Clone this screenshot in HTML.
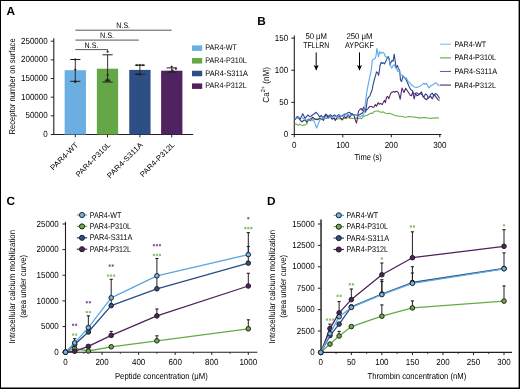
<!DOCTYPE html>
<html><head><meta charset="utf-8"><style>
html,body{margin:0;padding:0;background:#fff;}
svg{display:block;font-family:"Liberation Sans", sans-serif;will-change:transform;text-rendering:geometricPrecision;}
</style></head><body>
<svg width="520" height="389" viewBox="0 0 520 389">
<path d="M0,0H520V389H0Z M1,1V387.6H518.6V1Z" fill="#000" fill-rule="evenodd"/>
<text x="6.40" y="15.30" font-size="11.8" fill="#000" font-weight="bold" >A</text>
<line x1="53.80" y1="38.30" x2="53.80" y2="135.00" stroke="#231f20" stroke-width="1.1"/>
<line x1="53.30" y1="134.50" x2="193.20" y2="134.50" stroke="#231f20" stroke-width="1.1"/>
<line x1="50.80" y1="134.50" x2="53.80" y2="134.50" stroke="#231f20" stroke-width="1"/>
<text x="47.70" y="137.10" font-size="8.8" text-anchor="end" textLength="4.45" lengthAdjust="spacingAndGlyphs" >0</text>
<line x1="50.80" y1="115.84" x2="53.80" y2="115.84" stroke="#231f20" stroke-width="1"/>
<text x="47.70" y="118.44" font-size="8.8" text-anchor="end" textLength="22.25" lengthAdjust="spacingAndGlyphs" >50000</text>
<line x1="50.80" y1="97.18" x2="53.80" y2="97.18" stroke="#231f20" stroke-width="1"/>
<text x="47.70" y="99.78" font-size="8.8" text-anchor="end" textLength="26.70" lengthAdjust="spacingAndGlyphs" >100000</text>
<line x1="50.80" y1="78.52" x2="53.80" y2="78.52" stroke="#231f20" stroke-width="1"/>
<text x="47.70" y="81.12" font-size="8.8" text-anchor="end" textLength="26.70" lengthAdjust="spacingAndGlyphs" >150000</text>
<line x1="50.80" y1="59.86" x2="53.80" y2="59.86" stroke="#231f20" stroke-width="1"/>
<text x="47.70" y="62.46" font-size="8.8" text-anchor="end" textLength="26.70" lengthAdjust="spacingAndGlyphs" >200000</text>
<line x1="50.80" y1="41.20" x2="53.80" y2="41.20" stroke="#231f20" stroke-width="1"/>
<text x="47.70" y="43.80" font-size="8.8" text-anchor="end" textLength="26.70" lengthAdjust="spacingAndGlyphs" >250000</text>
<rect x="64.65" y="70.20" width="21.30" height="64.30" fill="#6aaee2"/>
<line x1="75.30" y1="134.50" x2="75.30" y2="137.30" stroke="#231f20" stroke-width="1.0"/>
<rect x="96.85" y="68.70" width="21.30" height="65.80" fill="#65a746"/>
<line x1="107.50" y1="134.50" x2="107.50" y2="137.30" stroke="#231f20" stroke-width="1.0"/>
<rect x="129.25" y="69.90" width="21.30" height="64.60" fill="#2d4f85"/>
<line x1="139.90" y1="134.50" x2="139.90" y2="137.30" stroke="#231f20" stroke-width="1.0"/>
<rect x="161.10" y="70.70" width="21.30" height="63.80" fill="#4f2360"/>
<line x1="171.75" y1="134.50" x2="171.75" y2="137.30" stroke="#231f20" stroke-width="1.0"/>
<line x1="75.30" y1="59.50" x2="75.30" y2="81.30" stroke="#231f20" stroke-width="0.9"/>
<line x1="70.20" y1="59.50" x2="80.40" y2="59.50" stroke="#231f20" stroke-width="1.0"/>
<line x1="70.20" y1="81.30" x2="80.40" y2="81.30" stroke="#231f20" stroke-width="1.0"/>
<circle cx="75.30" cy="59.50" r="0.9" fill="#231f20" stroke="#231f20" stroke-width="0.3"/>
<circle cx="75.30" cy="69.60" r="0.9" fill="#231f20" stroke="#231f20" stroke-width="0.3"/>
<circle cx="75.30" cy="81.30" r="0.9" fill="#231f20" stroke="#231f20" stroke-width="0.3"/>
<circle cx="75.30" cy="82.00" r="0.9" fill="#231f20" stroke="#231f20" stroke-width="0.3"/>
<line x1="107.60" y1="54.80" x2="107.60" y2="82.00" stroke="#231f20" stroke-width="0.9"/>
<line x1="102.50" y1="54.80" x2="112.70" y2="54.80" stroke="#231f20" stroke-width="1.0"/>
<line x1="102.50" y1="82.00" x2="112.70" y2="82.00" stroke="#231f20" stroke-width="1.0"/>
<circle cx="107.60" cy="51.70" r="0.9" fill="#231f20" stroke="#231f20" stroke-width="0.3"/>
<circle cx="107.60" cy="75.00" r="0.9" fill="#231f20" stroke="#231f20" stroke-width="0.3"/>
<circle cx="107.60" cy="79.10" r="0.9" fill="#231f20" stroke="#231f20" stroke-width="0.3"/>
<circle cx="106.10" cy="80.50" r="0.9" fill="#231f20" stroke="#231f20" stroke-width="0.3"/>
<circle cx="109.10" cy="80.50" r="0.9" fill="#231f20" stroke="#231f20" stroke-width="0.3"/>
<line x1="139.90" y1="65.20" x2="139.90" y2="74.20" stroke="#231f20" stroke-width="0.9"/>
<line x1="134.80" y1="65.20" x2="145.00" y2="65.20" stroke="#231f20" stroke-width="1.0"/>
<line x1="134.80" y1="74.20" x2="145.00" y2="74.20" stroke="#231f20" stroke-width="1.0"/>
<circle cx="139.90" cy="65.00" r="0.9" fill="#231f20" stroke="#231f20" stroke-width="0.3"/>
<circle cx="136.90" cy="65.20" r="0.9" fill="#231f20" stroke="#231f20" stroke-width="0.3"/>
<circle cx="142.90" cy="65.20" r="0.9" fill="#231f20" stroke="#231f20" stroke-width="0.3"/>
<circle cx="139.90" cy="74.50" r="0.9" fill="#231f20" stroke="#231f20" stroke-width="0.3"/>
<circle cx="137.40" cy="74.20" r="0.9" fill="#231f20" stroke="#231f20" stroke-width="0.3"/>
<line x1="171.70" y1="67.90" x2="171.70" y2="72.20" stroke="#231f20" stroke-width="0.9"/>
<line x1="166.60" y1="67.90" x2="176.80" y2="67.90" stroke="#231f20" stroke-width="1.0"/>
<line x1="166.60" y1="72.20" x2="176.80" y2="72.20" stroke="#231f20" stroke-width="1.0"/>
<circle cx="171.70" cy="66.70" r="0.9" fill="#231f20" stroke="#231f20" stroke-width="0.3"/>
<circle cx="175.90" cy="68.70" r="0.9" fill="#231f20" stroke="#231f20" stroke-width="0.3"/>
<circle cx="169.70" cy="71.80" r="0.9" fill="#231f20" stroke="#231f20" stroke-width="0.3"/>
<circle cx="172.70" cy="70.50" r="0.9" fill="#231f20" stroke="#231f20" stroke-width="0.3"/>
<line x1="75.40" y1="49.60" x2="107.60" y2="49.60" stroke="#444" stroke-width="0.9"/>
<line x1="107.60" y1="49.20" x2="107.60" y2="51.50" stroke="#444" stroke-width="0.8"/>
<line x1="75.40" y1="40.10" x2="138.80" y2="40.10" stroke="#444" stroke-width="0.9"/>
<line x1="75.40" y1="30.20" x2="171.60" y2="30.20" stroke="#444" stroke-width="0.9"/>
<text x="84.60" y="47.60" font-size="8.0" textLength="13.80" lengthAdjust="spacingAndGlyphs" >N.S.</text>
<text x="99.90" y="37.90" font-size="8.0" textLength="14.20" lengthAdjust="spacingAndGlyphs" >N.S.</text>
<text x="116.30" y="27.80" font-size="8.0" textLength="13.80" lengthAdjust="spacingAndGlyphs" >N.S.</text>
<text x="78.70" y="145.40" font-size="7.6" text-anchor="end" textLength="36.00" lengthAdjust="spacingAndGlyphs" transform="rotate(-45 78.70 145.40)" >PAR4-WT</text>
<text x="110.90" y="145.40" font-size="7.6" text-anchor="end" textLength="45.50" lengthAdjust="spacingAndGlyphs" transform="rotate(-45 110.90 145.40)" >PAR4-P310L</text>
<text x="143.30" y="145.40" font-size="7.6" text-anchor="end" textLength="47.00" lengthAdjust="spacingAndGlyphs" transform="rotate(-45 143.30 145.40)" >PAR4-S311A</text>
<text x="175.15" y="145.40" font-size="7.6" text-anchor="end" textLength="45.50" lengthAdjust="spacingAndGlyphs" transform="rotate(-45 175.15 145.40)" >PAR4-P312L</text>
<text x="14.90" y="86.40" font-size="8.6" text-anchor="middle" textLength="96.00" lengthAdjust="spacingAndGlyphs" transform="rotate(-90 14.90 86.40)" >Receptor number on surface</text>
<rect x="192.00" y="45.40" width="10.20" height="5.50" fill="#6aaee2"/>
<text x="205.30" y="50.30" font-size="8.0" textLength="31.60" lengthAdjust="spacingAndGlyphs" >PAR4-WT</text>
<rect x="192.00" y="58.07" width="10.20" height="5.50" fill="#65a746"/>
<text x="205.30" y="62.97" font-size="8.0" textLength="41.40" lengthAdjust="spacingAndGlyphs" >PAR4-P310L</text>
<rect x="192.00" y="70.74" width="10.20" height="5.50" fill="#2d4f85"/>
<text x="205.30" y="75.64" font-size="8.0" textLength="42.60" lengthAdjust="spacingAndGlyphs" >PAR4-S311A</text>
<rect x="192.00" y="83.41" width="10.20" height="5.50" fill="#4f2360"/>
<text x="205.30" y="88.31" font-size="8.0" textLength="41.40" lengthAdjust="spacingAndGlyphs" >PAR4-P312L</text>
<text x="257.30" y="24.90" font-size="11.8" fill="#000" font-weight="bold" >B</text>
<line x1="294.30" y1="35.60" x2="294.30" y2="135.00" stroke="#231f20" stroke-width="1.1"/>
<line x1="293.80" y1="134.50" x2="441.40" y2="134.50" stroke="#231f20" stroke-width="1.1"/>
<line x1="291.30" y1="134.50" x2="294.30" y2="134.50" stroke="#231f20" stroke-width="1"/>
<text x="288.20" y="137.10" font-size="8.8" text-anchor="end" textLength="4.45" lengthAdjust="spacingAndGlyphs" >0</text>
<line x1="291.30" y1="102.38" x2="294.30" y2="102.38" stroke="#231f20" stroke-width="1"/>
<text x="288.20" y="104.97" font-size="8.8" text-anchor="end" textLength="8.90" lengthAdjust="spacingAndGlyphs" >50</text>
<line x1="291.30" y1="70.25" x2="294.30" y2="70.25" stroke="#231f20" stroke-width="1"/>
<text x="288.20" y="72.85" font-size="8.8" text-anchor="end" textLength="13.35" lengthAdjust="spacingAndGlyphs" >100</text>
<line x1="291.30" y1="38.12" x2="294.30" y2="38.12" stroke="#231f20" stroke-width="1"/>
<text x="288.20" y="40.73" font-size="8.8" text-anchor="end" textLength="13.35" lengthAdjust="spacingAndGlyphs" >150</text>
<line x1="294.30" y1="134.50" x2="294.30" y2="137.30" stroke="#231f20" stroke-width="1"/>
<text x="294.30" y="148.20" font-size="8.8" text-anchor="middle" textLength="4.45" lengthAdjust="spacingAndGlyphs" >0</text>
<line x1="342.80" y1="134.50" x2="342.80" y2="137.30" stroke="#231f20" stroke-width="1"/>
<text x="342.80" y="148.20" font-size="8.8" text-anchor="middle" textLength="13.35" lengthAdjust="spacingAndGlyphs" >100</text>
<line x1="391.30" y1="134.50" x2="391.30" y2="137.30" stroke="#231f20" stroke-width="1"/>
<text x="391.30" y="148.20" font-size="8.8" text-anchor="middle" textLength="13.35" lengthAdjust="spacingAndGlyphs" >200</text>
<line x1="439.80" y1="134.50" x2="439.80" y2="137.30" stroke="#231f20" stroke-width="1"/>
<text x="439.80" y="148.20" font-size="8.8" text-anchor="middle" textLength="13.35" lengthAdjust="spacingAndGlyphs" >300</text>
<text x="368.20" y="160.20" font-size="8.8" text-anchor="middle" textLength="27.40" lengthAdjust="spacingAndGlyphs" >Time (s)</text>
<text x="268.9" y="84.9" font-size="8.8" text-anchor="middle" transform="rotate(-90 268.9 84.9)" textLength="35.5" lengthAdjust="spacingAndGlyphs">Ca<tspan font-size="6.0" dy="-3.6">2+</tspan><tspan dy="3.6"> (nM)</tspan></text>
<text x="316.20" y="38.70" font-size="8.3" text-anchor="middle" textLength="21.60" lengthAdjust="spacingAndGlyphs" >50 μM</text>
<text x="316.20" y="47.60" font-size="8.3" text-anchor="middle" textLength="26.00" lengthAdjust="spacingAndGlyphs" >TFLLRN</text>
<text x="359.40" y="38.70" font-size="8.3" text-anchor="middle" textLength="26.00" lengthAdjust="spacingAndGlyphs" >250 μM</text>
<text x="359.45" y="47.60" font-size="8.3" text-anchor="middle" textLength="28.70" lengthAdjust="spacingAndGlyphs" >AYPGKF</text>
<line x1="316.20" y1="52.40" x2="316.20" y2="67.00" stroke="#000" stroke-width="1.0"/>
<path d="M313.70,65.0 L316.20,66.3 L318.70,65.0 L316.20,70.7 Z" fill="#000"/>
<line x1="359.50" y1="52.40" x2="359.50" y2="67.00" stroke="#000" stroke-width="1.0"/>
<path d="M357.00,65.0 L359.50,66.3 L362.00,65.0 L359.50,70.7 Z" fill="#000"/>
<line x1="439.90" y1="44.20" x2="451.00" y2="44.20" stroke="#78b4e8" stroke-width="1.0"/>
<text x="454.50" y="46.80" font-size="7.9" textLength="31.60" lengthAdjust="spacingAndGlyphs" >PAR4-WT</text>
<line x1="439.90" y1="57.83" x2="451.00" y2="57.83" stroke="#86bf6c" stroke-width="1.5"/>
<text x="454.50" y="60.43" font-size="7.9" textLength="41.40" lengthAdjust="spacingAndGlyphs" >PAR4-P310L</text>
<line x1="439.90" y1="71.46" x2="451.00" y2="71.46" stroke="#4766a0" stroke-width="1.0"/>
<text x="454.50" y="74.06" font-size="7.9" textLength="42.60" lengthAdjust="spacingAndGlyphs" >PAR4-S311A</text>
<line x1="439.90" y1="85.09" x2="451.00" y2="85.09" stroke="#80639a" stroke-width="1.5"/>
<text x="454.50" y="87.69" font-size="7.9" textLength="41.40" lengthAdjust="spacingAndGlyphs" >PAR4-P312L</text>
<polyline points="294.50,123.50 295.10,123.50 296.65,124.23 298.20,125.40 299.70,124.20 301.25,125.01 302.80,125.40 304.15,125.16 305.50,124.60 307.00,123.80 308.20,120.40 310.50,118.50 312.00,118.70 313.50,119.20 315.05,119.20 316.60,119.20 318.55,118.97 320.50,118.80 322.40,118.74 324.30,118.50 326.15,118.07 328.00,117.30 329.90,117.46 331.80,118.10 333.75,118.37 335.70,119.20 337.60,119.05 339.50,118.50 341.45,118.61 343.40,118.80 345.30,118.41 347.20,117.70 348.50,117.67 349.80,118.20 351.10,118.50 353.00,118.43 354.90,118.10 356.20,118.07 357.50,118.63 358.80,118.50 360.00,118.10 361.50,118.80 363.50,116.50 365.40,115.80 367.00,115.40 368.50,114.60 370.00,113.50 371.50,113.10 372.70,113.50 374.20,111.20 376.00,111.20 378.00,110.80 379.60,111.90 381.50,112.30 383.50,111.90 385.00,113.10 386.35,113.54 387.70,113.50 389.25,113.37 390.80,113.80 392.30,114.12 393.80,115.00 395.35,115.42 396.90,115.80 398.45,116.26 400.00,116.20 401.67,116.46 403.33,116.70 405.00,117.20 406.67,116.99 408.33,116.58 410.00,116.70 411.67,116.67 413.33,116.93 415.00,117.10 416.67,117.43 418.33,117.61 420.00,118.10 421.67,117.77 423.33,117.60 425.00,117.60 426.67,117.88 428.33,118.07 430.00,118.50 431.67,117.95 433.33,118.17 435.00,117.70 436.33,117.87 437.67,118.05 439.00,118.10" fill="none" stroke="#6ab04a" stroke-width="1.1" stroke-linejoin="round" />
<polyline points="294.50,119.80 295.10,119.60 297.40,116.50 299.30,118.80 300.65,120.71 302.00,121.90 303.50,120.40 305.50,120.00 306.60,122.30 308.20,119.20 310.50,120.80 312.40,117.30 314.30,118.50 315.85,119.41 317.40,119.60 318.95,118.70 320.50,118.50 322.00,119.12 323.50,120.40 325.80,114.60 328.20,117.70 330.30,116.50 332.20,119.20 334.20,118.10 335.30,120.40 337.20,117.30 339.50,116.50 340.85,118.52 342.20,120.00 344.20,116.50 346.10,118.10 348.00,115.00 349.90,117.30 351.80,113.50 354.20,115.80 355.30,120.00 356.50,123.10 357.60,117.70 358.40,111.50 359.50,110.00 360.00,109.20 361.20,108.50 362.30,110.40 363.50,107.30 364.60,108.10 365.40,111.90 366.50,109.60 367.70,109.20 368.80,107.30 370.00,106.50 371.50,106.50 372.70,107.30 373.80,107.30 375.40,104.60 376.50,106.20 378.10,102.70 379.20,104.20 380.80,103.50 382.30,104.60 383.50,101.90 384.60,100.40 385.40,102.70 386.50,97.30 387.70,96.50 388.80,98.80 390.00,95.40 390.80,93.10 391.90,92.30 393.50,91.50 394.60,92.30 396.20,91.20 397.30,91.50 398.50,93.10 400.20,99.20 402.00,88.00 404.00,92.50 405.70,88.30 407.70,91.20 410.20,95.20 411.50,95.80 412.70,91.80 414.20,99.00 415.40,93.50 416.90,95.80 418.50,95.10 420.00,93.50 421.50,92.00 423.10,96.60 424.60,98.20 426.50,99.70 428.50,97.40 430.80,96.60 432.30,98.90 434.20,94.30 436.20,97.40 438.50,100.10 439.50,100.50" fill="none" stroke="#56266c" stroke-width="1.1" stroke-linejoin="round" />
<polyline points="294.50,119.50 295.10,119.20 296.45,117.64 297.80,116.50 300.10,119.20 301.45,116.54 302.80,113.80 305.10,118.50 306.45,116.65 307.80,115.00 310.10,116.90 312.40,115.00 314.30,113.80 316.20,112.30 318.50,115.00 319.70,117.30 321.20,115.40 322.80,117.70 324.30,116.03 325.80,114.20 328.20,116.50 330.30,114.60 332.20,116.50 334.50,115.00 336.50,116.50 338.80,114.60 340.70,116.20 342.05,115.70 343.40,115.00 344.95,114.05 346.50,113.80 347.85,112.66 349.20,112.30 351.10,113.80 353.40,114.60 355.70,115.00 358.00,115.40 360.30,114.20 361.80,113.10 362.00,113.80 363.50,111.20 364.60,108.10 365.40,111.90 366.50,106.50 367.30,99.60 368.50,97.30 370.00,95.50 371.20,92.30 372.30,89.20 373.10,84.60 374.20,80.00 375.40,76.20 376.50,71.90 377.70,72.70 378.50,75.40 379.20,72.30 380.00,65.80 381.20,62.30 382.30,63.50 383.50,62.70 384.60,63.80 385.80,61.20 387.00,58.80 388.10,56.50 389.20,58.80 390.00,65.00 391.20,61.90 392.00,60.40 393.10,61.20 394.20,54.20 395.00,59.60 396.10,68.10 397.30,65.40 398.50,68.80 399.60,70.00 400.50,80.00 401.50,81.50 403.00,76.20 404.60,77.70 406.20,80.00 407.70,83.30 409.20,86.80 410.80,89.70 412.30,90.50 413.50,93.20 415.00,93.50 416.90,92.80 418.50,94.30 420.80,93.50 422.30,95.10 423.80,97.40 425.40,93.90 426.90,94.70 428.50,98.20 430.80,94.30 432.30,93.20 433.80,96.20 435.40,93.50 436.90,94.30 438.50,96.60 439.60,98.50" fill="none" stroke="#2b4a8f" stroke-width="1.1" stroke-linejoin="round" />
<polyline points="294.50,119.00 295.10,118.80 297.40,118.10 299.70,117.30 302.00,117.70 304.30,118.80 306.60,120.40 308.90,120.00 310.45,119.79 312.00,120.00 314.30,121.20 315.50,125.00 316.60,128.10 318.20,124.20 319.70,120.40 321.20,118.50 322.75,117.98 324.30,118.10 326.25,118.22 328.20,118.50 330.30,116.90 332.60,117.30 334.90,116.50 337.20,116.90 339.50,115.00 341.80,116.50 344.20,115.80 345.50,115.12 346.80,115.00 348.15,114.65 349.50,115.00 351.80,115.40 354.20,115.00 356.50,115.80 358.80,116.20 361.10,116.20 362.60,115.40 363.00,115.90 363.80,114.50 364.60,110.40 365.40,102.70 366.20,96.00 367.30,89.20 368.50,83.10 369.60,77.70 370.80,72.30 371.50,68.00 372.30,60.40 373.50,59.20 375.00,58.80 376.00,55.80 376.90,48.50 377.70,52.70 378.50,56.90 379.60,51.50 380.80,53.50 382.00,52.70 383.10,52.30 384.20,53.50 385.40,56.50 387.00,57.70 388.50,58.50 389.60,61.20 390.80,66.50 391.90,68.10 393.10,65.80 394.20,64.60 395.40,67.30 397.00,69.60 398.00,71.80 399.50,71.10 400.80,75.40 402.30,75.00 403.80,76.90 405.00,78.50 406.20,77.70 407.70,80.80 409.20,82.30 410.80,83.80 412.30,85.80 414.60,87.00 416.90,87.40 419.20,86.60 421.50,85.10 423.80,83.20 425.00,84.30 426.20,83.20 427.70,85.80 429.20,87.80 430.80,85.80 432.30,85.10 434.60,83.50 436.20,82.80 437.70,84.30 439.20,86.20" fill="none" stroke="#5aa8e8" stroke-width="1.1" stroke-linejoin="round" />
<text x="6.40" y="204.70" font-size="11.8" fill="#000" font-weight="bold" >C</text>
<line x1="65.50" y1="221.80" x2="65.50" y2="352.70" stroke="#231f20" stroke-width="1.1"/>
<line x1="65.00" y1="352.20" x2="257.30" y2="352.20" stroke="#231f20" stroke-width="1.1"/>
<line x1="62.50" y1="352.20" x2="65.50" y2="352.20" stroke="#231f20" stroke-width="1"/>
<text x="58.80" y="354.80" font-size="8.8" text-anchor="end" textLength="4.45" lengthAdjust="spacingAndGlyphs" >0</text>
<line x1="62.50" y1="326.56" x2="65.50" y2="326.56" stroke="#231f20" stroke-width="1"/>
<text x="58.80" y="329.16" font-size="8.8" text-anchor="end" textLength="17.80" lengthAdjust="spacingAndGlyphs" >5000</text>
<line x1="62.50" y1="300.92" x2="65.50" y2="300.92" stroke="#231f20" stroke-width="1"/>
<text x="58.80" y="303.52" font-size="8.8" text-anchor="end" textLength="22.25" lengthAdjust="spacingAndGlyphs" >10000</text>
<line x1="62.50" y1="275.28" x2="65.50" y2="275.28" stroke="#231f20" stroke-width="1"/>
<text x="58.80" y="277.88" font-size="8.8" text-anchor="end" textLength="22.25" lengthAdjust="spacingAndGlyphs" >15000</text>
<line x1="62.50" y1="249.64" x2="65.50" y2="249.64" stroke="#231f20" stroke-width="1"/>
<text x="58.80" y="252.24" font-size="8.8" text-anchor="end" textLength="22.25" lengthAdjust="spacingAndGlyphs" >20000</text>
<line x1="62.50" y1="224.00" x2="65.50" y2="224.00" stroke="#231f20" stroke-width="1"/>
<text x="58.80" y="226.60" font-size="8.8" text-anchor="end" textLength="22.25" lengthAdjust="spacingAndGlyphs" >25000</text>
<line x1="65.50" y1="352.20" x2="65.50" y2="354.90" stroke="#231f20" stroke-width="1"/>
<text x="65.50" y="365.30" font-size="8.8" text-anchor="middle" textLength="4.45" lengthAdjust="spacingAndGlyphs" >0</text>
<line x1="102.06" y1="352.20" x2="102.06" y2="354.90" stroke="#231f20" stroke-width="1"/>
<text x="102.06" y="365.30" font-size="8.8" text-anchor="middle" textLength="13.35" lengthAdjust="spacingAndGlyphs" >200</text>
<line x1="138.62" y1="352.20" x2="138.62" y2="354.90" stroke="#231f20" stroke-width="1"/>
<text x="138.62" y="365.30" font-size="8.8" text-anchor="middle" textLength="13.35" lengthAdjust="spacingAndGlyphs" >400</text>
<line x1="175.18" y1="352.20" x2="175.18" y2="354.90" stroke="#231f20" stroke-width="1"/>
<text x="175.18" y="365.30" font-size="8.8" text-anchor="middle" textLength="13.35" lengthAdjust="spacingAndGlyphs" >600</text>
<line x1="211.74" y1="352.20" x2="211.74" y2="354.90" stroke="#231f20" stroke-width="1"/>
<text x="211.74" y="365.30" font-size="8.8" text-anchor="middle" textLength="13.35" lengthAdjust="spacingAndGlyphs" >800</text>
<line x1="248.30" y1="352.20" x2="248.30" y2="354.90" stroke="#231f20" stroke-width="1"/>
<text x="248.30" y="365.30" font-size="8.8" text-anchor="middle" textLength="17.80" lengthAdjust="spacingAndGlyphs" >1000</text>
<line x1="83.78" y1="352.20" x2="83.78" y2="353.90" stroke="#231f20" stroke-width="0.8"/>
<line x1="120.34" y1="352.20" x2="120.34" y2="353.90" stroke="#231f20" stroke-width="0.8"/>
<line x1="156.90" y1="352.20" x2="156.90" y2="353.90" stroke="#231f20" stroke-width="0.8"/>
<line x1="193.46" y1="352.20" x2="193.46" y2="353.90" stroke="#231f20" stroke-width="0.8"/>
<line x1="230.02" y1="352.20" x2="230.02" y2="353.90" stroke="#231f20" stroke-width="0.8"/>
<text x="161.35" y="378.70" font-size="8.8" text-anchor="middle" textLength="92.80" lengthAdjust="spacingAndGlyphs" >Peptide concentration (μM)</text>
<text x="15.00" y="286.70" font-size="8.6" text-anchor="middle" textLength="113.60" lengthAdjust="spacingAndGlyphs" transform="rotate(-90 15.00 286.70)" >Intracellular calcium mobilization</text>
<text x="26.20" y="286.40" font-size="8.6" text-anchor="middle" textLength="62.80" lengthAdjust="spacingAndGlyphs" transform="rotate(-90 26.20 286.40)" >(area under curve)</text>
<text x="266.90" y="204.90" font-size="11.8" fill="#000" font-weight="bold" >D</text>
<line x1="321.05" y1="219.40" x2="321.05" y2="352.90" stroke="#333" stroke-width="1.6"/>
<line x1="320.30" y1="352.40" x2="512.00" y2="352.40" stroke="#231f20" stroke-width="1.1"/>
<line x1="317.80" y1="352.40" x2="320.80" y2="352.40" stroke="#231f20" stroke-width="1"/>
<text x="314.60" y="355.00" font-size="8.8" text-anchor="end" textLength="4.45" lengthAdjust="spacingAndGlyphs" >0</text>
<line x1="317.80" y1="331.00" x2="320.80" y2="331.00" stroke="#231f20" stroke-width="1"/>
<text x="314.60" y="333.60" font-size="8.8" text-anchor="end" textLength="17.80" lengthAdjust="spacingAndGlyphs" >2500</text>
<line x1="317.80" y1="309.60" x2="320.80" y2="309.60" stroke="#231f20" stroke-width="1"/>
<text x="314.60" y="312.20" font-size="8.8" text-anchor="end" textLength="17.80" lengthAdjust="spacingAndGlyphs" >5000</text>
<line x1="317.80" y1="288.20" x2="320.80" y2="288.20" stroke="#231f20" stroke-width="1"/>
<text x="314.60" y="290.80" font-size="8.8" text-anchor="end" textLength="17.80" lengthAdjust="spacingAndGlyphs" >7500</text>
<line x1="317.80" y1="266.80" x2="320.80" y2="266.80" stroke="#231f20" stroke-width="1"/>
<text x="314.60" y="269.40" font-size="8.8" text-anchor="end" textLength="22.25" lengthAdjust="spacingAndGlyphs" >10000</text>
<line x1="317.80" y1="245.40" x2="320.80" y2="245.40" stroke="#231f20" stroke-width="1"/>
<text x="314.60" y="248.00" font-size="8.8" text-anchor="end" textLength="22.25" lengthAdjust="spacingAndGlyphs" >12500</text>
<line x1="317.80" y1="224.00" x2="320.80" y2="224.00" stroke="#231f20" stroke-width="1"/>
<text x="314.60" y="226.60" font-size="8.8" text-anchor="end" textLength="22.25" lengthAdjust="spacingAndGlyphs" >15000</text>
<line x1="320.80" y1="352.40" x2="320.80" y2="355.10" stroke="#231f20" stroke-width="1"/>
<text x="320.80" y="365.40" font-size="8.8" text-anchor="middle" textLength="4.45" lengthAdjust="spacingAndGlyphs" >0</text>
<line x1="351.34" y1="352.40" x2="351.34" y2="355.10" stroke="#231f20" stroke-width="1"/>
<text x="351.34" y="365.40" font-size="8.8" text-anchor="middle" textLength="8.90" lengthAdjust="spacingAndGlyphs" >50</text>
<line x1="381.87" y1="352.40" x2="381.87" y2="355.10" stroke="#231f20" stroke-width="1"/>
<text x="381.87" y="365.40" font-size="8.8" text-anchor="middle" textLength="13.35" lengthAdjust="spacingAndGlyphs" >100</text>
<line x1="412.41" y1="352.40" x2="412.41" y2="355.10" stroke="#231f20" stroke-width="1"/>
<text x="412.41" y="365.40" font-size="8.8" text-anchor="middle" textLength="13.35" lengthAdjust="spacingAndGlyphs" >150</text>
<line x1="442.94" y1="352.40" x2="442.94" y2="355.10" stroke="#231f20" stroke-width="1"/>
<text x="442.94" y="365.40" font-size="8.8" text-anchor="middle" textLength="13.35" lengthAdjust="spacingAndGlyphs" >200</text>
<line x1="473.48" y1="352.40" x2="473.48" y2="355.10" stroke="#231f20" stroke-width="1"/>
<text x="473.48" y="365.40" font-size="8.8" text-anchor="middle" textLength="13.35" lengthAdjust="spacingAndGlyphs" >250</text>
<line x1="504.01" y1="352.40" x2="504.01" y2="355.10" stroke="#231f20" stroke-width="1"/>
<text x="504.01" y="365.40" font-size="8.8" text-anchor="middle" textLength="13.35" lengthAdjust="spacingAndGlyphs" >300</text>
<line x1="336.07" y1="352.40" x2="336.07" y2="354.10" stroke="#231f20" stroke-width="0.8"/>
<line x1="366.60" y1="352.40" x2="366.60" y2="354.10" stroke="#231f20" stroke-width="0.8"/>
<line x1="397.14" y1="352.40" x2="397.14" y2="354.10" stroke="#231f20" stroke-width="0.8"/>
<line x1="427.67" y1="352.40" x2="427.67" y2="354.10" stroke="#231f20" stroke-width="0.8"/>
<line x1="458.21" y1="352.40" x2="458.21" y2="354.10" stroke="#231f20" stroke-width="0.8"/>
<line x1="488.74" y1="352.40" x2="488.74" y2="354.10" stroke="#231f20" stroke-width="0.8"/>
<text x="416.90" y="378.60" font-size="8.8" text-anchor="middle" textLength="98.80" lengthAdjust="spacingAndGlyphs" >Thrombin concentration (nM)</text>
<text x="275.10" y="286.70" font-size="8.6" text-anchor="middle" textLength="113.60" lengthAdjust="spacingAndGlyphs" transform="rotate(-90 275.10 286.70)" >Intracellular calcium mobilization</text>
<text x="286.30" y="286.40" font-size="8.6" text-anchor="middle" textLength="62.80" lengthAdjust="spacingAndGlyphs" transform="rotate(-90 286.30 286.40)" >(area under curve)</text>
<line x1="156.90" y1="340.80" x2="156.90" y2="335.80" stroke="#231f20" stroke-width="1.0"/>
<line x1="155.30" y1="335.80" x2="158.50" y2="335.80" stroke="#231f20" stroke-width="1.1"/>
<line x1="248.30" y1="328.80" x2="248.30" y2="319.80" stroke="#231f20" stroke-width="1.0"/>
<line x1="246.70" y1="319.80" x2="249.90" y2="319.80" stroke="#231f20" stroke-width="1.1"/>
<polyline points="65.50,352.20 74.64,348.40 88.35,351.00 111.20,346.80 156.90,340.80 248.30,328.80" fill="none" stroke="#64ab45" stroke-width="1.3" stroke-linejoin="round" />
<circle cx="65.50" cy="352.20" r="2.3" fill="#6aae4a" stroke="#231f20" stroke-width="1.0"/>
<circle cx="74.64" cy="348.40" r="2.3" fill="#6aae4a" stroke="#231f20" stroke-width="1.0"/>
<circle cx="88.35" cy="351.00" r="2.3" fill="#6aae4a" stroke="#231f20" stroke-width="1.0"/>
<circle cx="111.20" cy="346.80" r="2.3" fill="#6aae4a" stroke="#231f20" stroke-width="1.0"/>
<circle cx="156.90" cy="340.80" r="2.3" fill="#6aae4a" stroke="#231f20" stroke-width="1.0"/>
<circle cx="248.30" cy="328.80" r="2.3" fill="#6aae4a" stroke="#231f20" stroke-width="1.0"/>
<line x1="111.20" y1="335.40" x2="111.20" y2="331.40" stroke="#231f20" stroke-width="1.0"/>
<line x1="109.60" y1="331.40" x2="112.80" y2="331.40" stroke="#231f20" stroke-width="1.1"/>
<line x1="156.90" y1="315.90" x2="156.90" y2="309.00" stroke="#231f20" stroke-width="1.0"/>
<line x1="155.30" y1="309.00" x2="158.50" y2="309.00" stroke="#231f20" stroke-width="1.1"/>
<line x1="248.30" y1="286.00" x2="248.30" y2="273.30" stroke="#231f20" stroke-width="1.0"/>
<line x1="246.70" y1="273.30" x2="249.90" y2="273.30" stroke="#231f20" stroke-width="1.1"/>
<polyline points="65.50,352.20 74.64,351.30 88.35,346.40 111.20,335.40 156.90,315.90 248.30,286.00" fill="none" stroke="#4d215e" stroke-width="1.3" stroke-linejoin="round" />
<circle cx="65.50" cy="352.20" r="2.3" fill="#4e2260" stroke="#231f20" stroke-width="1.0"/>
<circle cx="74.64" cy="351.30" r="2.3" fill="#4e2260" stroke="#231f20" stroke-width="1.0"/>
<circle cx="88.35" cy="346.40" r="2.3" fill="#4e2260" stroke="#231f20" stroke-width="1.0"/>
<circle cx="111.20" cy="335.40" r="2.3" fill="#4e2260" stroke="#231f20" stroke-width="1.0"/>
<circle cx="156.90" cy="315.90" r="2.3" fill="#4e2260" stroke="#231f20" stroke-width="1.0"/>
<circle cx="248.30" cy="286.00" r="2.3" fill="#4e2260" stroke="#231f20" stroke-width="1.0"/>
<line x1="74.64" y1="344.60" x2="74.64" y2="342.90" stroke="#231f20" stroke-width="1.0"/>
<line x1="73.04" y1="342.90" x2="76.24" y2="342.90" stroke="#231f20" stroke-width="1.1"/>
<line x1="88.35" y1="332.00" x2="88.35" y2="327.60" stroke="#231f20" stroke-width="1.0"/>
<line x1="86.75" y1="327.60" x2="89.95" y2="327.60" stroke="#231f20" stroke-width="1.1"/>
<line x1="111.20" y1="305.60" x2="111.20" y2="297.80" stroke="#231f20" stroke-width="1.0"/>
<line x1="109.60" y1="297.80" x2="112.80" y2="297.80" stroke="#231f20" stroke-width="1.1"/>
<line x1="156.90" y1="288.80" x2="156.90" y2="275.80" stroke="#231f20" stroke-width="1.0"/>
<line x1="155.30" y1="275.80" x2="158.50" y2="275.80" stroke="#231f20" stroke-width="1.1"/>
<line x1="248.30" y1="263.10" x2="248.30" y2="246.50" stroke="#231f20" stroke-width="1.0"/>
<line x1="246.70" y1="246.50" x2="249.90" y2="246.50" stroke="#231f20" stroke-width="1.1"/>
<polyline points="65.50,352.20 74.64,344.60 88.35,332.00 111.20,305.60 156.90,288.80 248.30,263.10" fill="none" stroke="#2b4c82" stroke-width="1.3" stroke-linejoin="round" />
<circle cx="65.50" cy="352.20" r="2.3" fill="#2e5088" stroke="#231f20" stroke-width="1.0"/>
<circle cx="74.64" cy="344.60" r="2.3" fill="#2e5088" stroke="#231f20" stroke-width="1.0"/>
<circle cx="88.35" cy="332.00" r="2.3" fill="#2e5088" stroke="#231f20" stroke-width="1.0"/>
<circle cx="111.20" cy="305.60" r="2.3" fill="#2e5088" stroke="#231f20" stroke-width="1.0"/>
<circle cx="156.90" cy="288.80" r="2.3" fill="#2e5088" stroke="#231f20" stroke-width="1.0"/>
<circle cx="248.30" cy="263.10" r="2.3" fill="#2e5088" stroke="#231f20" stroke-width="1.0"/>
<line x1="74.64" y1="342.90" x2="74.64" y2="338.70" stroke="#231f20" stroke-width="1.0"/>
<line x1="73.04" y1="338.70" x2="76.24" y2="338.70" stroke="#231f20" stroke-width="1.1"/>
<line x1="88.35" y1="327.60" x2="88.35" y2="315.80" stroke="#231f20" stroke-width="1.0"/>
<line x1="86.75" y1="315.80" x2="89.95" y2="315.80" stroke="#231f20" stroke-width="1.1"/>
<line x1="111.20" y1="297.80" x2="111.20" y2="279.30" stroke="#231f20" stroke-width="1.0"/>
<line x1="109.60" y1="279.30" x2="112.80" y2="279.30" stroke="#231f20" stroke-width="1.1"/>
<line x1="156.90" y1="275.80" x2="156.90" y2="258.50" stroke="#231f20" stroke-width="1.0"/>
<line x1="155.30" y1="258.50" x2="158.50" y2="258.50" stroke="#231f20" stroke-width="1.1"/>
<line x1="248.30" y1="254.60" x2="248.30" y2="232.60" stroke="#231f20" stroke-width="1.0"/>
<line x1="246.70" y1="232.60" x2="249.90" y2="232.60" stroke="#231f20" stroke-width="1.1"/>
<polyline points="65.50,352.20 74.64,342.90 88.35,327.60 111.20,297.80 156.90,275.80 248.30,254.60" fill="none" stroke="#5aa6e0" stroke-width="1.3" stroke-linejoin="round" />
<circle cx="65.50" cy="352.20" r="2.3" fill="#6cb6ec" stroke="#231f20" stroke-width="1.0"/>
<circle cx="74.64" cy="342.90" r="2.3" fill="#6cb6ec" stroke="#231f20" stroke-width="1.0"/>
<circle cx="88.35" cy="327.60" r="2.3" fill="#6cb6ec" stroke="#231f20" stroke-width="1.0"/>
<circle cx="111.20" cy="297.80" r="2.3" fill="#6cb6ec" stroke="#231f20" stroke-width="1.0"/>
<circle cx="156.90" cy="275.80" r="2.3" fill="#6cb6ec" stroke="#231f20" stroke-width="1.0"/>
<circle cx="248.30" cy="254.60" r="2.3" fill="#6cb6ec" stroke="#231f20" stroke-width="1.0"/>
<line x1="339.12" y1="336.00" x2="339.12" y2="331.40" stroke="#231f20" stroke-width="1.0"/>
<line x1="337.52" y1="331.40" x2="340.72" y2="331.40" stroke="#231f20" stroke-width="1.1"/>
<line x1="381.87" y1="316.20" x2="381.87" y2="304.90" stroke="#231f20" stroke-width="1.0"/>
<line x1="380.27" y1="304.90" x2="383.47" y2="304.90" stroke="#231f20" stroke-width="1.1"/>
<line x1="412.41" y1="307.90" x2="412.41" y2="300.90" stroke="#231f20" stroke-width="1.0"/>
<line x1="410.81" y1="300.90" x2="414.01" y2="300.90" stroke="#231f20" stroke-width="1.1"/>
<line x1="504.01" y1="301.10" x2="504.01" y2="285.90" stroke="#231f20" stroke-width="1.0"/>
<line x1="502.41" y1="285.90" x2="505.61" y2="285.90" stroke="#231f20" stroke-width="1.1"/>
<polyline points="320.80,352.40 329.96,344.10 339.12,336.00 351.34,326.60 381.87,316.20 412.41,307.90 504.01,301.10" fill="none" stroke="#64ab45" stroke-width="1.3" stroke-linejoin="round" />
<circle cx="320.80" cy="352.40" r="2.3" fill="#6aae4a" stroke="#231f20" stroke-width="1.0"/>
<circle cx="329.96" cy="344.10" r="2.3" fill="#6aae4a" stroke="#231f20" stroke-width="1.0"/>
<circle cx="339.12" cy="336.00" r="2.3" fill="#6aae4a" stroke="#231f20" stroke-width="1.0"/>
<circle cx="351.34" cy="326.60" r="2.3" fill="#6aae4a" stroke="#231f20" stroke-width="1.0"/>
<circle cx="381.87" cy="316.20" r="2.3" fill="#6aae4a" stroke="#231f20" stroke-width="1.0"/>
<circle cx="412.41" cy="307.90" r="2.3" fill="#6aae4a" stroke="#231f20" stroke-width="1.0"/>
<circle cx="504.01" cy="301.10" r="2.3" fill="#6aae4a" stroke="#231f20" stroke-width="1.0"/>
<line x1="329.96" y1="328.60" x2="329.96" y2="324.10" stroke="#231f20" stroke-width="1.0"/>
<line x1="328.36" y1="324.10" x2="331.56" y2="324.10" stroke="#231f20" stroke-width="1.1"/>
<line x1="339.12" y1="312.90" x2="339.12" y2="301.60" stroke="#231f20" stroke-width="1.0"/>
<line x1="337.52" y1="301.60" x2="340.72" y2="301.60" stroke="#231f20" stroke-width="1.1"/>
<line x1="351.34" y1="299.60" x2="351.34" y2="289.00" stroke="#231f20" stroke-width="1.0"/>
<line x1="349.74" y1="289.00" x2="352.94" y2="289.00" stroke="#231f20" stroke-width="1.1"/>
<line x1="381.87" y1="274.80" x2="381.87" y2="263.00" stroke="#231f20" stroke-width="1.0"/>
<line x1="380.27" y1="263.00" x2="383.47" y2="263.00" stroke="#231f20" stroke-width="1.1"/>
<line x1="412.41" y1="257.70" x2="412.41" y2="231.80" stroke="#231f20" stroke-width="1.0"/>
<line x1="410.81" y1="231.80" x2="414.01" y2="231.80" stroke="#231f20" stroke-width="1.1"/>
<line x1="504.01" y1="246.30" x2="504.01" y2="229.70" stroke="#231f20" stroke-width="1.0"/>
<line x1="502.41" y1="229.70" x2="505.61" y2="229.70" stroke="#231f20" stroke-width="1.1"/>
<polyline points="320.80,352.40 329.96,328.60 339.12,312.90 351.34,299.60 381.87,274.80 412.41,257.70 504.01,246.30" fill="none" stroke="#4d215e" stroke-width="1.3" stroke-linejoin="round" />
<circle cx="320.80" cy="352.40" r="2.3" fill="#4e2260" stroke="#231f20" stroke-width="1.0"/>
<circle cx="329.96" cy="328.60" r="2.3" fill="#4e2260" stroke="#231f20" stroke-width="1.0"/>
<circle cx="339.12" cy="312.90" r="2.3" fill="#4e2260" stroke="#231f20" stroke-width="1.0"/>
<circle cx="351.34" cy="299.60" r="2.3" fill="#4e2260" stroke="#231f20" stroke-width="1.0"/>
<circle cx="381.87" cy="274.80" r="2.3" fill="#4e2260" stroke="#231f20" stroke-width="1.0"/>
<circle cx="412.41" cy="257.70" r="2.3" fill="#4e2260" stroke="#231f20" stroke-width="1.0"/>
<circle cx="504.01" cy="246.30" r="2.3" fill="#4e2260" stroke="#231f20" stroke-width="1.0"/>
<line x1="381.87" y1="294.00" x2="381.87" y2="281.50" stroke="#231f20" stroke-width="1.0"/>
<line x1="380.27" y1="281.50" x2="383.47" y2="281.50" stroke="#231f20" stroke-width="1.1"/>
<line x1="412.41" y1="282.50" x2="412.41" y2="273.00" stroke="#231f20" stroke-width="1.0"/>
<line x1="410.81" y1="273.00" x2="414.01" y2="273.00" stroke="#231f20" stroke-width="1.1"/>
<polyline points="320.80,352.40 329.96,335.60 339.12,324.10 351.34,306.80 381.87,294.00 412.41,282.50 504.01,268.50" fill="none" stroke="#2b4c82" stroke-width="1.3" stroke-linejoin="round" />
<circle cx="320.80" cy="352.40" r="2.3" fill="#2e5088" stroke="#231f20" stroke-width="1.0"/>
<circle cx="329.96" cy="335.60" r="2.3" fill="#2e5088" stroke="#231f20" stroke-width="1.0"/>
<circle cx="339.12" cy="324.10" r="2.3" fill="#2e5088" stroke="#231f20" stroke-width="1.0"/>
<circle cx="351.34" cy="306.80" r="2.3" fill="#2e5088" stroke="#231f20" stroke-width="1.0"/>
<circle cx="381.87" cy="294.00" r="2.3" fill="#2e5088" stroke="#231f20" stroke-width="1.0"/>
<circle cx="412.41" cy="282.50" r="2.3" fill="#2e5088" stroke="#231f20" stroke-width="1.0"/>
<circle cx="504.01" cy="268.50" r="2.3" fill="#2e5088" stroke="#231f20" stroke-width="1.0"/>
<line x1="381.87" y1="294.60" x2="381.87" y2="279.70" stroke="#231f20" stroke-width="1.0"/>
<line x1="380.27" y1="279.70" x2="383.47" y2="279.70" stroke="#231f20" stroke-width="1.1"/>
<line x1="412.41" y1="283.30" x2="412.41" y2="266.70" stroke="#231f20" stroke-width="1.0"/>
<line x1="410.81" y1="266.70" x2="414.01" y2="266.70" stroke="#231f20" stroke-width="1.1"/>
<line x1="504.01" y1="268.80" x2="504.01" y2="252.90" stroke="#231f20" stroke-width="1.0"/>
<line x1="502.41" y1="252.90" x2="505.61" y2="252.90" stroke="#231f20" stroke-width="1.1"/>
<polyline points="320.80,352.40 329.96,333.70 339.12,316.70 351.34,307.40 381.87,294.60 412.41,283.30 504.01,268.80" fill="none" stroke="#5aa6e0" stroke-width="1.3" stroke-linejoin="round" />
<circle cx="320.80" cy="352.40" r="2.3" fill="#6cb6ec" stroke="#231f20" stroke-width="1.0"/>
<circle cx="329.96" cy="333.70" r="2.3" fill="#6cb6ec" stroke="#231f20" stroke-width="1.0"/>
<circle cx="339.12" cy="316.70" r="2.3" fill="#6cb6ec" stroke="#231f20" stroke-width="1.0"/>
<circle cx="351.34" cy="307.40" r="2.3" fill="#6cb6ec" stroke="#231f20" stroke-width="1.0"/>
<circle cx="381.87" cy="294.60" r="2.3" fill="#6cb6ec" stroke="#231f20" stroke-width="1.0"/>
<circle cx="412.41" cy="283.30" r="2.3" fill="#6cb6ec" stroke="#231f20" stroke-width="1.0"/>
<circle cx="504.01" cy="268.80" r="2.3" fill="#6cb6ec" stroke="#231f20" stroke-width="1.0"/>
<path d="M73.11,323.55L73.11,326.05M72.03,324.18L74.20,325.43M74.20,324.18L72.03,325.43M76.17,323.55L76.17,326.05M75.08,324.18L77.25,325.43M77.25,324.18L75.08,325.43" stroke="#7a3f8c" stroke-width="0.8" fill="none"/>
<path d="M73.11,333.35L73.11,335.85M72.03,333.98L74.20,335.23M74.20,333.98L72.03,335.23M76.17,333.35L76.17,335.85M75.08,333.98L77.25,335.23M77.25,333.98L75.08,335.23" stroke="#76b456" stroke-width="0.8" fill="none"/>
<path d="M86.82,301.05L86.82,303.55M85.74,301.68L87.91,302.93M87.91,301.68L85.74,302.93M89.88,301.05L89.88,303.55M88.79,301.68L90.96,302.93M90.96,301.68L88.79,302.93" stroke="#7a3f8c" stroke-width="0.8" fill="none"/>
<path d="M86.82,310.85L86.82,313.35M85.74,311.48L87.91,312.73M87.91,311.48L85.74,312.73M89.88,310.85L89.88,313.35M88.79,311.48L90.96,312.73M90.96,311.48L88.79,312.73" stroke="#76b456" stroke-width="0.8" fill="none"/>
<path d="M109.67,264.35L109.67,266.85M108.59,264.98L110.76,266.23M110.76,264.98L108.59,266.23M112.72,264.35L112.72,266.85M111.64,264.98L113.81,266.23M113.81,264.98L111.64,266.23" stroke="#7a3f8c" stroke-width="0.8" fill="none"/>
<path d="M108.15,274.35L108.15,276.85M107.07,274.98L109.23,276.23M109.23,274.98L107.07,276.23M111.20,274.35L111.20,276.85M110.12,274.98L112.28,276.23M112.28,274.98L110.12,276.23M114.25,274.35L114.25,276.85M113.17,274.98L115.33,276.23M115.33,274.98L113.17,276.23" stroke="#76b456" stroke-width="0.8" fill="none"/>
<path d="M153.85,243.95L153.85,246.45M152.77,244.57L154.93,245.82M154.93,244.57L152.77,245.82M156.90,243.95L156.90,246.45M155.82,244.57L157.98,245.82M157.98,244.57L155.82,245.82M159.95,243.95L159.95,246.45M158.87,244.57L161.03,245.82M161.03,244.57L158.87,245.82" stroke="#7a3f8c" stroke-width="0.8" fill="none"/>
<path d="M153.85,253.75L153.85,256.25M152.77,254.38L154.93,255.62M154.93,254.38L152.77,255.62M156.90,253.75L156.90,256.25M155.82,254.38L157.98,255.62M157.98,254.38L155.82,255.62M159.95,253.75L159.95,256.25M158.87,254.38L161.03,255.62M161.03,254.38L158.87,255.62" stroke="#76b456" stroke-width="0.8" fill="none"/>
<path d="M248.30,216.95L248.30,219.45M247.22,217.57L249.38,218.82M249.38,217.57L247.22,218.82" stroke="#7a3f8c" stroke-width="0.8" fill="none"/>
<path d="M245.25,226.85L245.25,229.35M244.17,227.47L246.33,228.72M246.33,227.47L244.17,228.72M248.30,226.85L248.30,229.35M247.22,227.47L249.38,228.72M249.38,227.47L247.22,228.72M251.35,226.85L251.35,229.35M250.27,227.47L252.43,228.72M252.43,227.47L250.27,228.72" stroke="#76b456" stroke-width="0.8" fill="none"/>
<path d="M326.91,318.35L326.91,320.85M325.83,318.98L327.99,320.23M327.99,318.98L325.83,320.23M329.96,318.35L329.96,320.85M328.88,318.98L331.04,320.23M331.04,318.98L328.88,320.23M333.01,318.35L333.01,320.85M331.93,318.98L334.09,320.23M334.09,318.98L331.93,320.23" stroke="#76b456" stroke-width="0.8" fill="none"/>
<path d="M337.60,294.55L337.60,297.05M336.51,295.18L338.68,296.43M338.68,295.18L336.51,296.43M340.65,294.55L340.65,297.05M339.56,295.18L341.73,296.43M341.73,295.18L339.56,296.43" stroke="#76b456" stroke-width="0.8" fill="none"/>
<path d="M349.81,283.05L349.81,285.55M348.73,283.68L350.89,284.93M350.89,283.68L348.73,284.93M352.86,283.05L352.86,285.55M351.78,283.68L353.94,284.93M353.94,283.68L351.78,284.93" stroke="#76b456" stroke-width="0.8" fill="none"/>
<path d="M381.87,257.25L381.87,259.75M380.79,257.88L382.95,259.12M382.95,257.88L380.79,259.12" stroke="#76b456" stroke-width="0.8" fill="none"/>
<path d="M410.88,225.25L410.88,227.75M409.80,225.88L411.96,227.12M411.96,225.88L409.80,227.12M413.93,225.25L413.93,227.75M412.85,225.88L415.01,227.12M415.01,225.88L412.85,227.12" stroke="#76b456" stroke-width="0.8" fill="none"/>
<path d="M504.01,224.05L504.01,226.55M502.93,224.68L505.09,225.93M505.09,224.68L502.93,225.93" stroke="#76b456" stroke-width="0.8" fill="none"/>
<line x1="76.80" y1="215.00" x2="87.20" y2="215.00" stroke="#5aa6e0" stroke-width="1.2"/>
<circle cx="82.00" cy="215.00" r="2.55" fill="#6cb6ec" stroke="#231f20" stroke-width="1.0"/>
<text x="89.70" y="217.50" font-size="8.3" textLength="31.60" lengthAdjust="spacingAndGlyphs" >PAR4-WT</text>
<line x1="76.80" y1="226.40" x2="87.20" y2="226.40" stroke="#64ab45" stroke-width="1.2"/>
<circle cx="82.00" cy="226.40" r="2.55" fill="#6aae4a" stroke="#231f20" stroke-width="1.0"/>
<text x="89.70" y="228.90" font-size="8.3" textLength="41.40" lengthAdjust="spacingAndGlyphs" >PAR4-P310L</text>
<line x1="76.80" y1="237.80" x2="87.20" y2="237.80" stroke="#2b4c82" stroke-width="1.2"/>
<circle cx="82.00" cy="237.80" r="2.55" fill="#2e5088" stroke="#231f20" stroke-width="1.0"/>
<text x="89.70" y="240.30" font-size="8.3" textLength="42.60" lengthAdjust="spacingAndGlyphs" >PAR4-S311A</text>
<line x1="76.80" y1="249.20" x2="87.20" y2="249.20" stroke="#4d215e" stroke-width="1.2"/>
<circle cx="82.00" cy="249.20" r="2.55" fill="#4e2260" stroke="#231f20" stroke-width="1.0"/>
<text x="89.70" y="251.70" font-size="8.3" textLength="41.40" lengthAdjust="spacingAndGlyphs" >PAR4-P312L</text>
<line x1="333.60" y1="215.30" x2="344.00" y2="215.30" stroke="#5aa6e0" stroke-width="1.2"/>
<circle cx="338.80" cy="215.30" r="2.55" fill="#6cb6ec" stroke="#231f20" stroke-width="1.0"/>
<text x="346.50" y="217.80" font-size="8.3" textLength="31.60" lengthAdjust="spacingAndGlyphs" >PAR4-WT</text>
<line x1="333.60" y1="226.70" x2="344.00" y2="226.70" stroke="#64ab45" stroke-width="1.2"/>
<circle cx="338.80" cy="226.70" r="2.55" fill="#6aae4a" stroke="#231f20" stroke-width="1.0"/>
<text x="346.50" y="229.20" font-size="8.3" textLength="41.40" lengthAdjust="spacingAndGlyphs" >PAR4-P310L</text>
<line x1="333.60" y1="238.10" x2="344.00" y2="238.10" stroke="#2b4c82" stroke-width="1.2"/>
<circle cx="338.80" cy="238.10" r="2.55" fill="#2e5088" stroke="#231f20" stroke-width="1.0"/>
<text x="346.50" y="240.60" font-size="8.3" textLength="42.60" lengthAdjust="spacingAndGlyphs" >PAR4-S311A</text>
<line x1="333.60" y1="249.50" x2="344.00" y2="249.50" stroke="#4d215e" stroke-width="1.2"/>
<circle cx="338.80" cy="249.50" r="2.55" fill="#4e2260" stroke="#231f20" stroke-width="1.0"/>
<text x="346.50" y="252.00" font-size="8.3" textLength="41.40" lengthAdjust="spacingAndGlyphs" >PAR4-P312L</text>
</svg>
</body></html>
